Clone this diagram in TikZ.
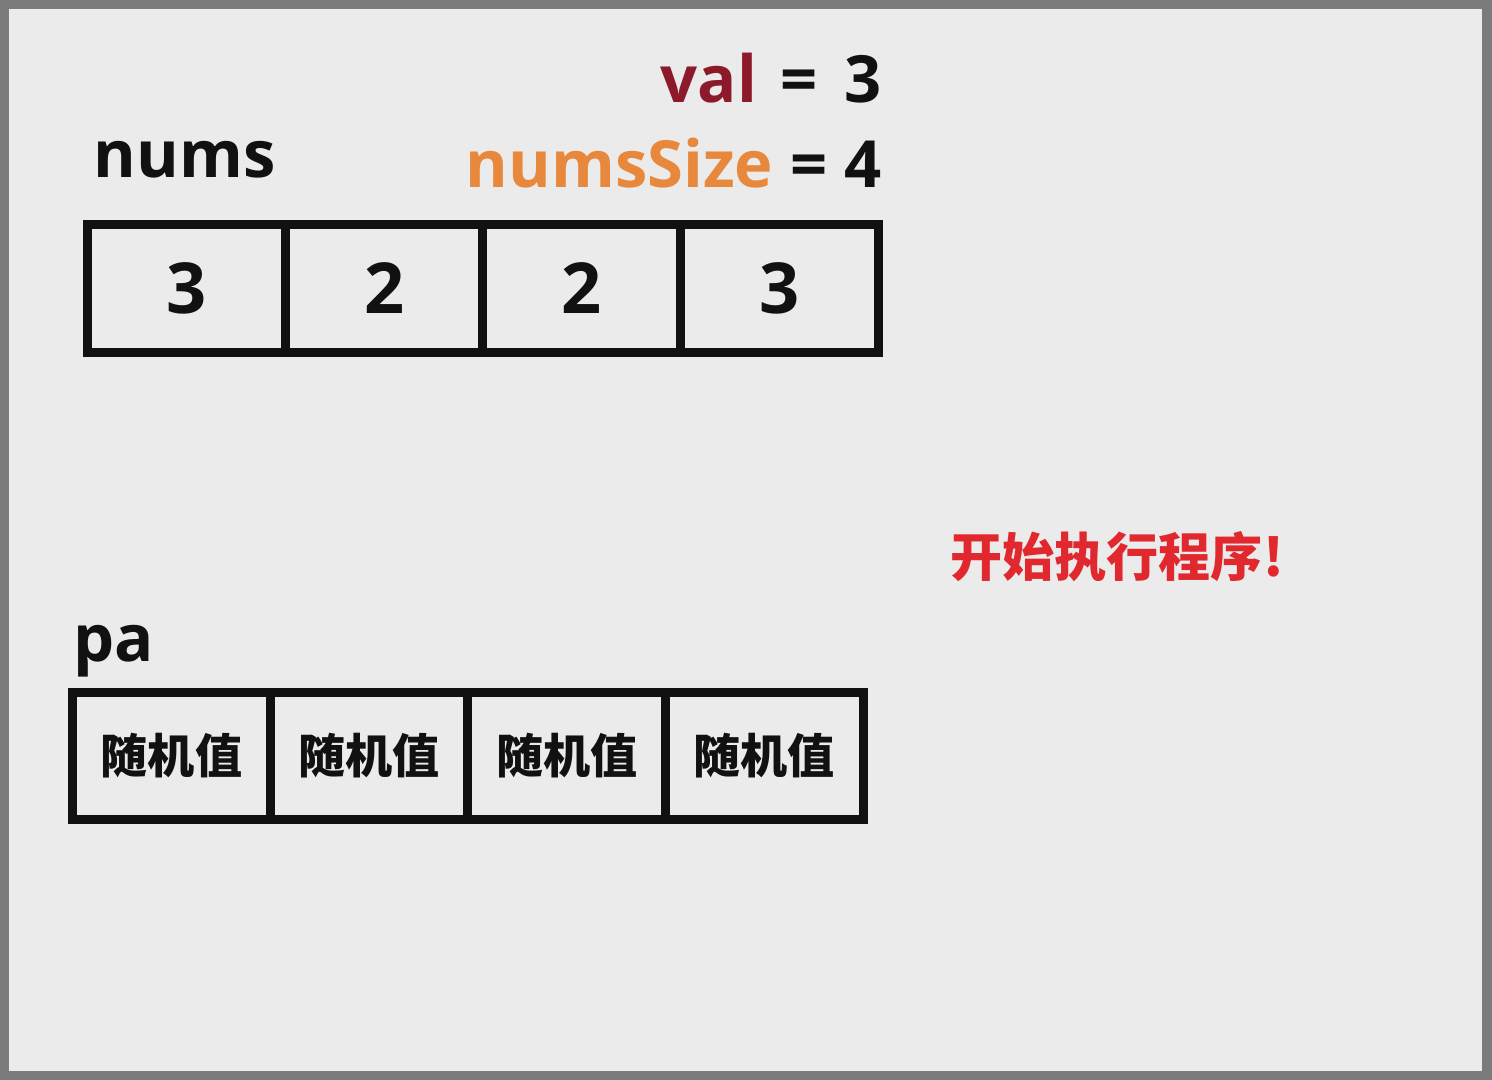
\documentclass[tikz,border=0pt]{standalone}
\usepackage{fontspec}
\setmainfont{Open Sans}
\newfontfamily\cjk{Noto Sans CJK SC}
\usetikzlibrary{positioning}
\definecolor{framegray}{HTML}{7B7B7B}
\definecolor{paper}{HTML}{EBEBEB}
\definecolor{valred}{HTML}{8C1A2A}
\definecolor{sizeorange}{HTML}{E8883C}
\definecolor{startred}{HTML}{E0282E}
\definecolor{ink}{HTML}{111111}

\begin{document}
\begin{tikzpicture}[x=0.01cm, y=-0.01cm,
  cell/.style={draw=ink, line width=0.09cm, minimum width=1.975cm, minimum height=1.275cm,
    inner sep=0pt, outer sep=0pt, text=ink},
  numcell/.style={cell, font=\fontsize{20}{20}\selectfont\bfseries},
  pacell/.style={cell, font=\cjk\fontsize{13.4}{14}\selectfont\bfseries},
  varname/.style={inner sep=0pt, text=ink, font=\fontsize{18.5}{20}\selectfont\bfseries}]

\fill[framegray] (0,0) rectangle (1492,1080);
\fill[paper] (9,9) rectangle (1482,1071);
\useasboundingbox (0,0) rectangle (1492,1080);

\node[varname, anchor=base east] (valline) at (882,103)
  {\textcolor{valred}{val}\hspace{0.36em}=\hspace{0.41em}3};
\node[varname, anchor=base east] (sizeline) at (882,188) {\textcolor{sizeorange}{numsSize} = 4};

\node[varname, anchor=base west] (numslabel) at (93,178) {nums};
\node[numcell] (n1) at (186.5,288.5) {3};
\node[numcell, right=0pt of n1] (n2) {2};
\node[numcell, right=0pt of n2] (n3) {2};
\node[numcell, right=0pt of n3] (n4) {3};

\node[anchor=west, inner sep=0pt, text=startred, font=\cjk\fontsize{14.8}{16}\selectfont\bfseries]
  (startmsg) at (950,557) {开始执行程序!};

\node[varname, anchor=base west] (palabel) at (73,662) {pa};
\node[pacell] (p1) at (171.5,756) {随机值};
\node[pacell, right=0pt of p1] (p2) {随机值};
\node[pacell, right=0pt of p2] (p3) {随机值};
\node[pacell, right=0pt of p3] (p4) {随机值};

\end{tikzpicture}
\end{document}
